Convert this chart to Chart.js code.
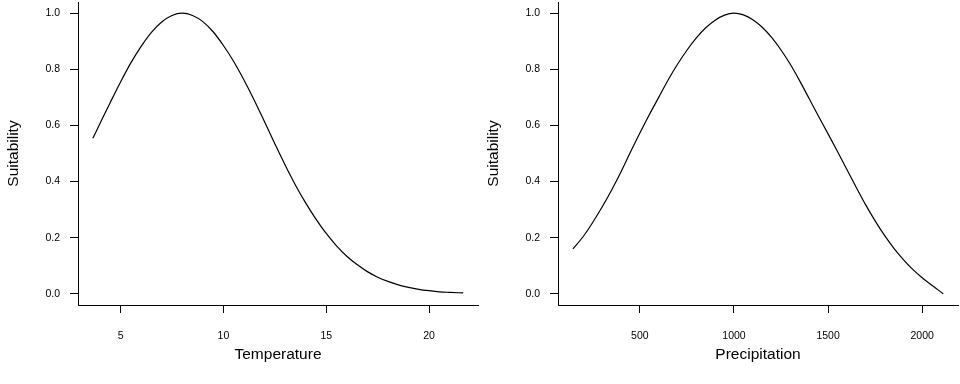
<!DOCTYPE html>
<html>
<head>
<meta charset="utf-8">
<script src="https://cdn.jsdelivr.net/npm/chart.js@4/dist/chart.umd.min.js"></script>
<style>
  body { margin: 0; background: #fff; }
  .panel { position: absolute; top: 0; width: 480px; height: 384px; }
</style>
</head>
<body>
<div class="panel" style="left:0"><canvas id="tempChart" width="480" height="384"></canvas></div>
<div class="panel" style="left:480px"><canvas id="precChart" width="480" height="384"></canvas></div>
<script>
// Temperature response curve
const tempX = [3.65, 4, 4.5, 5, 5.5, 6, 6.5, 7, 7.5, 8, 8.5, 9, 9.5, 10, 10.5, 11, 11.5, 12, 12.5, 13,
  13.5, 14, 14.5, 15, 15.5, 16, 16.5, 17, 17.5, 18, 18.5, 19, 19.5, 20, 20.5, 21, 21.66];
const tempY = [0.554, 0.607, 0.682, 0.755, 0.823, 0.882, 0.932, 0.969, 0.992, 1.0, 0.992, 0.97, 0.934, 0.885, 0.828, 0.762, 0.69, 0.613, 0.535, 0.459,
  0.388, 0.324, 0.266, 0.215, 0.171, 0.134, 0.104, 0.079, 0.059, 0.044, 0.032, 0.023, 0.016, 0.011, 0.007, 0.005, 0.003];

// Precipitation response curve
const precX = [144, 200, 250, 300, 350, 400, 450, 500, 550, 600, 650, 700, 750, 800, 850, 900, 950, 1000,
  1050, 1100, 1150, 1200, 1250, 1300, 1350, 1400, 1450, 1500, 1550, 1600, 1650, 1700, 1750, 1800, 1850,
  1900, 1950, 2000, 2050, 2112];
const precY = [0.16, 0.205, 0.255, 0.31, 0.37, 0.435, 0.505, 0.573, 0.638, 0.70, 0.762, 0.818, 0.868, 0.912, 0.948, 0.975, 0.993, 1.0,
  0.994, 0.977, 0.95, 0.914, 0.869, 0.817, 0.758, 0.695, 0.632, 0.57, 0.507, 0.443, 0.379, 0.317, 0.26, 0.208, 0.162,
  0.122, 0.087, 0.057, 0.031, 0.0];

const yTicks = [0, 0.2, 0.4, 0.6, 0.8, 1.0];
const tempTicks = [5, 10, 15, 20];
const precTicks = [500, 1000, 1500, 2000];

const FONT = '"Liberation Sans", Arial, sans-serif';

function makeChart(id, xs, ys, xTicks, xMin, xMax, xTitle) {
  const pts = xs.map((x, i) => ({ x: x, y: ys[i] }));
  return new Chart(document.getElementById(id).getContext('2d'), {
    type: 'line',
    data: {
      datasets: [{
        data: pts,
        borderColor: '#000',
        borderWidth: 1.2,
        pointRadius: 0,
        fill: false,
        cubicInterpolationMode: 'monotone'
      }]
    },
    options: {
      responsive: false,
      devicePixelRatio: 1,
      animation: false,
      layout: { padding: { top: 2, right: 2, left: 0, bottom: 0 } },
      plugins: { legend: { display: false }, tooltip: { enabled: false } },
      scales: {
        x: {
          type: 'linear',
          min: xMin,
          max: xMax,
          afterBuildTicks: s => { s.ticks = xTicks.map(v => ({ value: v })); },
          afterFit: s => { s.height = 79; s.paddingLeft = 0; s.paddingRight = 0; },
          grid: { drawOnChartArea: false, drawTicks: true, tickLength: 8, color: '#000', lineWidth: 1 },
          border: { display: true, color: '#000', width: 1 },
          ticks: { color: '#000', font: { family: FONT, size: 10.5 }, padding: 17, autoSkip: false, maxRotation: 0,
                   callback: v => String(v) },
          title: { display: true, text: xTitle, color: '#000', font: { family: FONT, size: 15.5 }, padding: { top: 0, bottom: 20 } }
        },
        y: {
          type: 'linear',
          min: -0.04,
          max: 1.04,
          afterBuildTicks: s => { s.ticks = yTicks.map(v => ({ value: v })); },
          afterFit: s => { s.width = 78; s.paddingTop = 0; s.paddingBottom = 0; },
          grid: { drawOnChartArea: false, drawTicks: true, tickLength: 8, color: '#000', lineWidth: 1 },
          border: { display: true, color: '#000', width: 1 },
          ticks: { color: '#000', font: { family: FONT, size: 10.5 }, padding: 10, callback: v => v.toFixed(1) },
          title: { display: true, text: 'Suitability', color: '#000', font: { family: FONT, size: 15.5 }, padding: { top: 4, bottom: 0 } }
        }
      }
    }
  });
}

makeChart('tempChart', tempX, tempY, tempTicks, 2.93, 22.38, 'Temperature');
makeChart('precChart', precX, precY, precTicks, 64.9, 2190.4, 'Precipitation');
</script>
</body>
</html>
